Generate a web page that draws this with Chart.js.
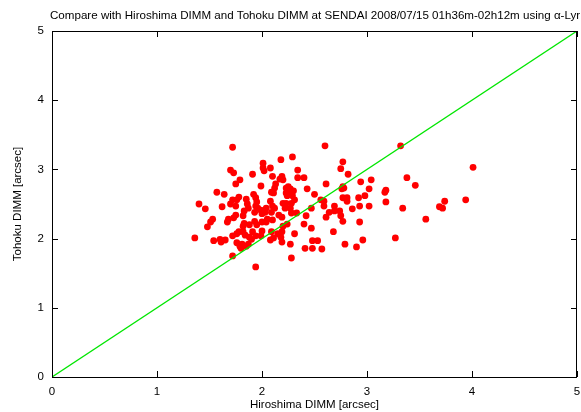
<!DOCTYPE html>
<html>
<head>
<meta charset="utf-8">
<script src="https://cdn.jsdelivr.net/npm/chart.js@4.4.1/dist/chart.umd.min.js"></script>
<style>
  html, body { margin: 0; padding: 0; background: #fff; }
</style>
</head>
<body>
<canvas id="seeing" width="581" height="412"></canvas>
<script>
// Hiroshima DIMM (x) vs Tohoku DIMM (y), arcsec
const hiroshima = [
  1.72, 1.70, 1.73, 1.91, 1.79, 1.75, 1.57, 1.64, 1.40, 1.46, 1.62, 1.70,
  1.72, 1.78, 1.76, 1.75, 1.85, 1.86, 1.87, 1.83, 1.92, 1.94, 1.95, 1.94,
  1.93, 1.96, 1.75, 1.73, 1.68, 1.67, 1.53, 1.51, 1.48, 1.82, 1.83, 1.82,
  1.88, 1.93, 1.95, 1.78, 1.76, 1.82, 1.84, 1.88, 1.91, 1.94, 1.72, 1.36,
  1.54, 1.60, 1.61, 1.65, 1.76, 1.79, 1.81, 1.80, 1.85, 1.87, 1.72, 1.94,
  2.01, 2.01, 2.02, 2.18, 2.29, 2.08, 2.10, 2.19, 2.17, 2.20, 2.34, 2.34,
  2.40, 1.99, 2.13, 2.12, 2.09, 2.11, 2.23, 2.25, 2.27, 2.30, 2.28, 2.23,
  2.24, 2.29, 2.43, 2.60, 2.61, 2.50, 2.56, 2.59, 2.08, 2.10, 2.20, 2.23,
  2.28, 2.31, 2.04, 2.12, 2.22, 2.27, 1.99, 2.00, 2.03, 2.09, 2.00, 2.04,
  2.05, 2.10, 2.16, 2.19, 2.28, 2.33, 2.42, 2.40, 2.47, 2.59, 2.64, 2.69,
  2.69, 2.61, 2.74, 2.75, 2.77, 2.77, 2.81, 2.81, 2.86, 2.92, 2.93, 2.98,
  2.93, 2.77, 2.75, 2.82, 2.77, 2.78, 2.76, 2.24, 2.20, 2.47, 2.09, 2.15,
  2.19, 2.18, 2.11, 2.08, 2.19, 2.31, 2.27, 2.48, 2.53, 2.41, 2.48, 2.57,
  2.68, 2.79, 2.90, 2.96, 2.28, 2.00, 1.90, 1.99, 3.32, 4.01, 2.94, 3.04,
  3.38, 3.46, 3.02, 3.17, 3.18, 3.18, 3.02, 3.34, 3.74, 3.69, 3.72, 3.94,
  3.56, 3.27
];
const tohoku = [
  3.32, 2.99, 2.95, 2.93, 2.85, 2.79, 2.67, 2.64, 2.50, 2.43, 2.46, 2.50,
  2.56, 2.60, 2.56, 2.47, 2.57, 2.50, 2.44, 2.40, 2.64, 2.59, 2.53, 2.47,
  2.38, 2.44, 2.34, 2.30, 2.28, 2.24, 2.28, 2.24, 2.17, 2.33, 2.22, 2.18,
  2.20, 2.25, 2.20, 2.10, 2.07, 2.10, 2.05, 2.02, 2.10, 2.04, 2.04, 2.01,
  1.97, 1.99, 1.95, 1.98, 1.94, 1.89, 1.92, 1.86, 1.89, 1.92, 1.75, 1.59,
  3.09, 3.02, 2.98, 3.14, 3.18, 3.02, 2.90, 2.90, 2.86, 2.85, 2.99, 2.88,
  2.88, 2.76, 2.79, 2.73, 2.67, 2.66, 2.73, 2.75, 2.72, 2.69, 2.66, 2.66,
  2.62, 2.62, 2.72, 3.34, 2.79, 2.64, 2.56, 2.54, 2.54, 2.47, 2.51, 2.51,
  2.51, 2.56, 2.44, 2.44, 2.44, 2.44, 2.41, 2.36, 2.38, 2.38, 2.24, 2.24,
  2.28, 2.27, 2.34, 2.31, 2.37, 2.37, 2.33, 2.21, 2.44, 2.47, 2.38, 2.47,
  2.40, 2.31, 2.40, 2.33, 2.25, 2.59, 2.59, 2.54, 2.43, 2.59, 2.47, 2.62,
  2.24, 3.11, 3.01, 2.93, 2.75, 2.73, 2.72, 2.21, 2.18, 2.15, 2.10, 2.07,
  2.10, 2.02, 2.01, 1.98, 1.95, 2.07, 1.92, 1.97, 1.97, 1.86, 1.86, 1.85,
  2.10, 1.92, 1.88, 1.98, 1.72, 2.11, 1.99, 2.04, 3.34, 3.03, 2.82, 2.85,
  2.88, 2.77, 2.72, 2.67, 2.70, 2.53, 2.47, 2.44, 2.54, 2.46, 2.44, 2.56,
  2.28, 2.01
];
// y = x reference line
const diagonal = [0, 5];
const tickValues = [0, 1, 2, 3, 4, 5];
const chartTitle = "Compare with Hiroshima DIMM and Tohoku DIMM at SENDAI 2008/07/15 01h36m-02h12m using \u03b1-Lyr";

const FONT = '"Liberation Sans", Arial, Helvetica, sans-serif';

// gnuplot-like frame with inward ticks on all four sides
const framePlugin = {
  id: 'frame',
  afterDatasetsDraw(chart) {
    const { ctx, chartArea: a, scales: { x, y } } = chart;
    ctx.save();
    ctx.strokeStyle = '#000';
    ctx.lineWidth = 1;
    ctx.beginPath();
    tickValues.forEach(v => {
      const px = Math.round(x.getPixelForValue(v)) + 0.5;
      ctx.moveTo(px, a.bottom); ctx.lineTo(px, a.bottom - 6);
      ctx.moveTo(px, a.top); ctx.lineTo(px, a.top + 6);
      const py = Math.round(y.getPixelForValue(v)) + 0.5;
      ctx.moveTo(a.left, py); ctx.lineTo(a.left + 6, py);
      ctx.moveTo(a.right, py); ctx.lineTo(a.right - 6, py);
    });
    ctx.stroke();
    ctx.strokeRect(Math.round(a.left) + 0.5, Math.round(a.top) + 0.5,
                   Math.round(a.width) - 1, Math.round(a.height));
    ctx.restore();
  }
};

// title is wider than the canvas, so it is drawn left-aligned like the original
const titlePlugin = {
  id: 'leftTitle',
  afterDraw(chart) {
    const ctx = chart.ctx;
    ctx.save();
    ctx.fillStyle = '#000';
    ctx.font = '11.6px ' + FONT;
    ctx.textBaseline = 'alphabetic';
    ctx.textAlign = 'left';
    ctx.fillText(chartTitle, 50, 19);
    ctx.restore();
  }
};

new Chart(document.getElementById('seeing'), {
  type: 'scatter',
  data: {
    datasets: [
      {
        label: 'y=x',
        type: 'line',
        data: diagonal.map(v => ({ x: v, y: v })),
        borderColor: '#00e600',
        borderWidth: 1.3,
        pointRadius: 0,
        fill: false,
        order: 0
      },
      {
        label: 'DIMM',
        data: hiroshima.map((v, i) => ({ x: v, y: tohoku[i] })),
        backgroundColor: '#ff0000',
        borderWidth: 0,
        pointRadius: 3.4,
        order: 1
      }
    ]
  },
  plugins: [framePlugin, titlePlugin],
  options: {
    responsive: false,
    animation: false,
    devicePixelRatio: 1,
    layout: { padding: { top: 31, right: 1, left: 0, bottom: 0 } },
    plugins: {
      legend: { display: false },
      tooltip: { enabled: false },
      title: { display: false }
    },
    scales: {
      x: {
        type: 'linear',
        min: 0,
        max: 5,
        afterFit: s => { s.height = 35; s.paddingLeft = 0; s.paddingRight = 0; },
        afterBuildTicks: s => { s.ticks = tickValues.map(v => ({ value: v })); },
        ticks: { color: '#000', font: { family: FONT, size: 11.5 }, padding: 8 },
        grid: { display: false, drawTicks: false },
        border: { display: false },
        title: {
          display: true,
          text: 'Hiroshima DIMM [arcsec]',
          color: '#000',
          font: { family: FONT, size: 11.5 },
          padding: { top: 2, bottom: 0 }
        }
      },
      y: {
        type: 'linear',
        min: 0,
        max: 5,
        afterFit: s => { s.width = 52; s.paddingTop = 0; s.paddingBottom = 0; },
        afterBuildTicks: s => { s.ticks = tickValues.map(v => ({ value: v })); },
        ticks: { color: '#000', font: { family: FONT, size: 11.5 }, padding: 8 },
        grid: { display: false, drawTicks: false },
        border: { display: false },
        title: {
          display: true,
          text: 'Tohoku DIMM [arcsec]',
          color: '#000',
          font: { family: FONT, size: 11.5 },
          padding: { top: 11, bottom: 0 }
        }
      }
    }
  }
});
</script>
</body>
</html>
